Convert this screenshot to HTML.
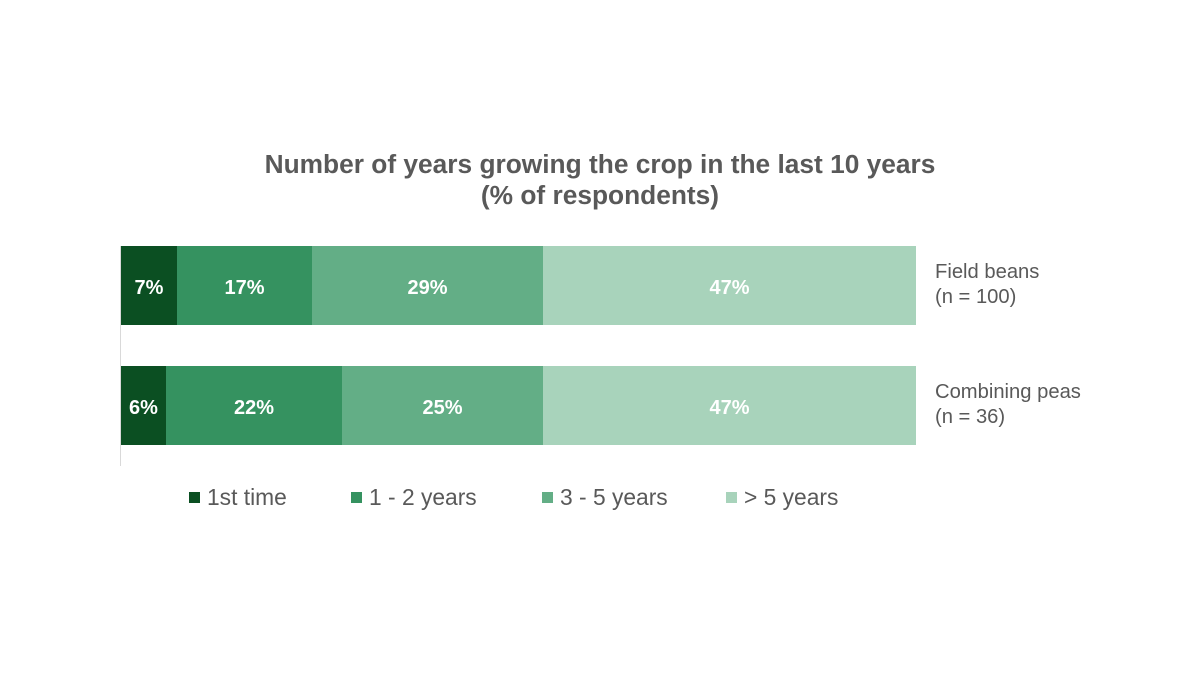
<!DOCTYPE html>
<html><head><style>
body{margin:0;width:1200px;height:675px;background:#fff;font-family:"Liberation Sans",sans-serif;position:relative;overflow:hidden}
.t{position:absolute;left:0;width:1200px;text-align:center;font-weight:bold;font-size:26.3px;color:#595959;line-height:31px;top:149px}
.b{position:absolute;height:79px;color:#fff;font-weight:bold;font-size:20px;display:flex;align-items:center;justify-content:center;padding-top:5px;box-sizing:border-box}
.c1{background:#0b4f22}.c2{background:#359260}.c3{background:#63ae86}.c4{background:#a8d3bb}
.lab{position:absolute;left:935px;font-size:20.2px;color:#595959;line-height:25px}
.lg{position:absolute;top:484px;font-size:22.8px;color:#595959;line-height:26px}
.lg i{display:inline-block;width:11px;height:11px;margin-right:7px;vertical-align:2px}
</style></head><body>
<div class="t">Number of years growing the crop in the last 10 years<br>(% of respondents)</div>
<div style="position:absolute;left:120px;top:246px;width:1px;height:220px;background:#d9d9d9"></div>
<div class="b c1" style="left:121px;top:246px;width:56px">7%</div>
<div class="b c2" style="left:177px;top:246px;width:135px">17%</div>
<div class="b c3" style="left:312px;top:246px;width:231px">29%</div>
<div class="b c4" style="left:543px;top:246px;width:373px">47%</div>
<div class="b c1" style="left:121px;top:366px;width:45px">6%</div>
<div class="b c2" style="left:166px;top:366px;width:176px">22%</div>
<div class="b c3" style="left:342px;top:366px;width:201px">25%</div>
<div class="b c4" style="left:543px;top:366px;width:373px">47%</div>
<div class="lab" style="top:260px">Field beans<br>(n = 100)</div>
<div class="lab" style="top:380px">Combining peas<br>(n = 36)</div>
<div class="lg" style="left:189px"><i class="c1"></i>1st time</div>
<div class="lg" style="left:351px"><i class="c2"></i>1 - 2 years</div>
<div class="lg" style="left:542px"><i class="c3"></i>3 - 5 years</div>
<div class="lg" style="left:726px"><i class="c4"></i>&gt; 5 years</div>
</body></html>
